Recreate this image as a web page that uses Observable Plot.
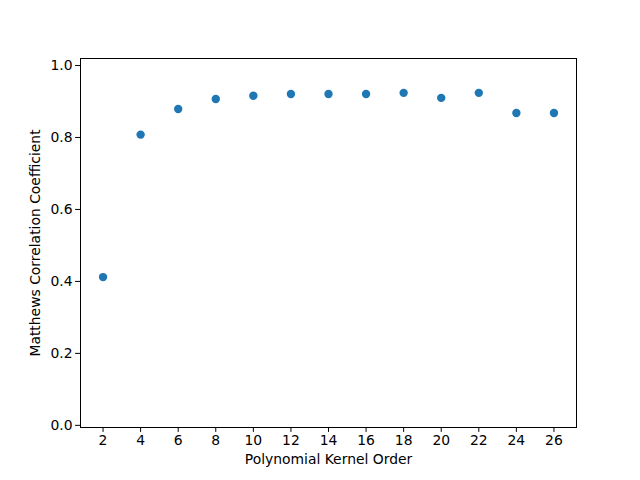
<!DOCTYPE html>
<html>
<head>
<meta charset="utf-8">
<script src="https://cdn.jsdelivr.net/npm/d3@7"></script>
<script src="https://cdn.jsdelivr.net/npm/@observablehq/plot@0.6"></script>
<style>
  html, body { margin: 0; padding: 0; background: #fff; }
  svg { display: block; }
</style>
</head>
<body>
<div id="chart"></div>
<script>
const orders = [2, 4, 6, 8, 10, 12, 14, 16, 18, 20, 22, 24, 26];
const mcc = [0.412, 0.808, 0.879, 0.907, 0.916, 0.921, 0.921, 0.921, 0.924, 0.910, 0.924, 0.868, 0.868];
const xTicks = [2, 4, 6, 8, 10, 12, 14, 16, 18, 20, 22, 24, 26];
const yTicks = [0.0, 0.2, 0.4, 0.6, 0.8, 1.0];

const data = orders.map((o, i) => ({order: o, mcc: mcc[i]}));

const font = "DejaVu Sans, sans-serif";
const chart = Plot.plot({
  width: 640,
  height: 480,
  marginLeft: 80,
  marginRight: 64,
  marginTop: 58,
  marginBottom: 53,
  style: {fontFamily: font, fontSize: "13.9px", color: "#000", background: "#fff"},
  x: {domain: [0.8, 27.2]},
  y: {domain: [-0.006, 1.0195]},
  marks: [
    Plot.frame({stroke: "#000", strokeWidth: 1}),
    Plot.axisX({ticks: xTicks, tickSize: 4.9, tickPadding: 3, tickFormat: d => String(d),
      label: "Polynomial Kernel Order", labelAnchor: "center", labelArrow: "none", labelOffset: 36,
      fontSize: "13.9px"}),
    Plot.axisY({ticks: yTicks, tickSize: 4.9, tickPadding: 3, tickFormat: d3.format(".1f"),
      label: "Matthews Correlation Coefficient", labelAnchor: "center", labelArrow: "none", labelOffset: 50,
      fontSize: "13.9px"}),
    Plot.dot(data, {x: "order", y: "mcc", r: 4.2, fill: "#1f77b4", stroke: null})
  ]
});
document.getElementById("chart").appendChild(chart);
</script>
</body>
</html>
